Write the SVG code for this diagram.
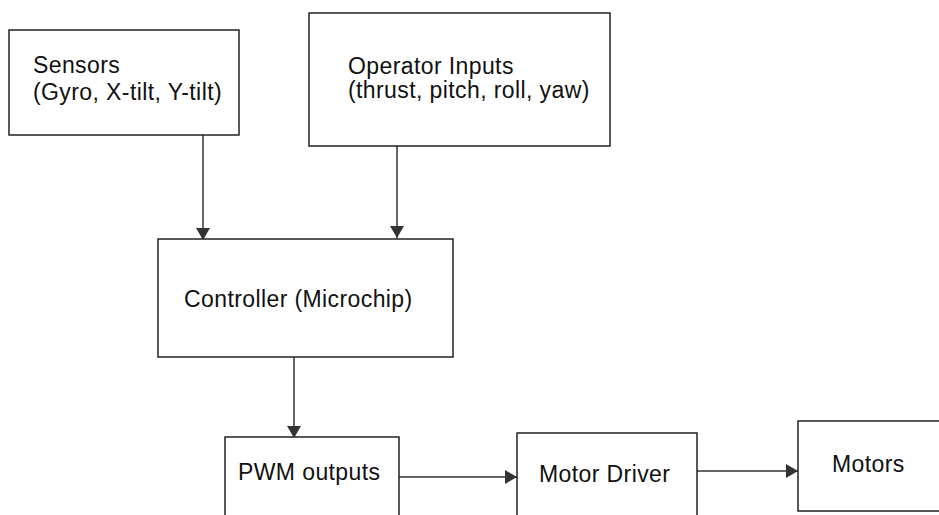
<svg xmlns="http://www.w3.org/2000/svg" width="939" height="515" viewBox="0 0 939 515">
<defs>
<style>
.box{fill:#fff;stroke:#222;stroke-width:1.5}
.t{font-family:"Liberation Sans",Arial,sans-serif;font-size:23px;letter-spacing:0.4px;fill:#111}
.c{stroke:#333;stroke-width:1.5;fill:none}
</style>
<marker id="ah" markerWidth="13" markerHeight="15" refX="12" refY="7" orient="auto" markerUnits="userSpaceOnUse">
<path d="M0,0 L12,7 L0,14 Z" fill="#333"/>
</marker>
</defs>
<rect width="939" height="515" fill="#fff"/>
<g id="connectors">
<line class="c" x1="203" y1="135" x2="203" y2="240" marker-end="url(#ah)"/>
<line class="c" x1="397" y1="146" x2="397" y2="238" marker-end="url(#ah)"/>
<line class="c" x1="294" y1="357" x2="294" y2="438" marker-end="url(#ah)"/>
<line class="c" x1="399" y1="477" x2="517" y2="477" marker-end="url(#ah)"/>
<line class="c" x1="697" y1="471" x2="798" y2="471" marker-end="url(#ah)"/>
</g>
<g id="sensors">
<rect class="box" x="9" y="30" width="230" height="105"/>
<text class="t" x="33" y="73">Sensors</text>
<text class="t" x="33" y="100">(Gyro, X-tilt, Y-tilt)</text>
</g>
<g id="operator">
<rect class="box" x="309" y="13" width="301" height="133"/>
<text class="t" x="348" y="74">Operator Inputs</text>
<text class="t" x="348" y="98">(thrust, pitch, roll, yaw)</text>
</g>
<g id="controller">
<rect class="box" x="158" y="239" width="295" height="118"/>
<text class="t" x="184" y="307">Controller (Microchip)</text>
</g>
<g id="pwm">
<rect class="box" x="225" y="437" width="174" height="90"/>
<text class="t" x="238" y="480">PWM outputs</text>
</g>
<g id="driver">
<rect class="box" x="517" y="433" width="180" height="95"/>
<text class="t" x="539" y="482">Motor Driver</text>
</g>
<g id="motors">
<rect class="box" x="798" y="421" width="160" height="90"/>
<text class="t" x="832" y="472">Motors</text>
</g>
</svg>
